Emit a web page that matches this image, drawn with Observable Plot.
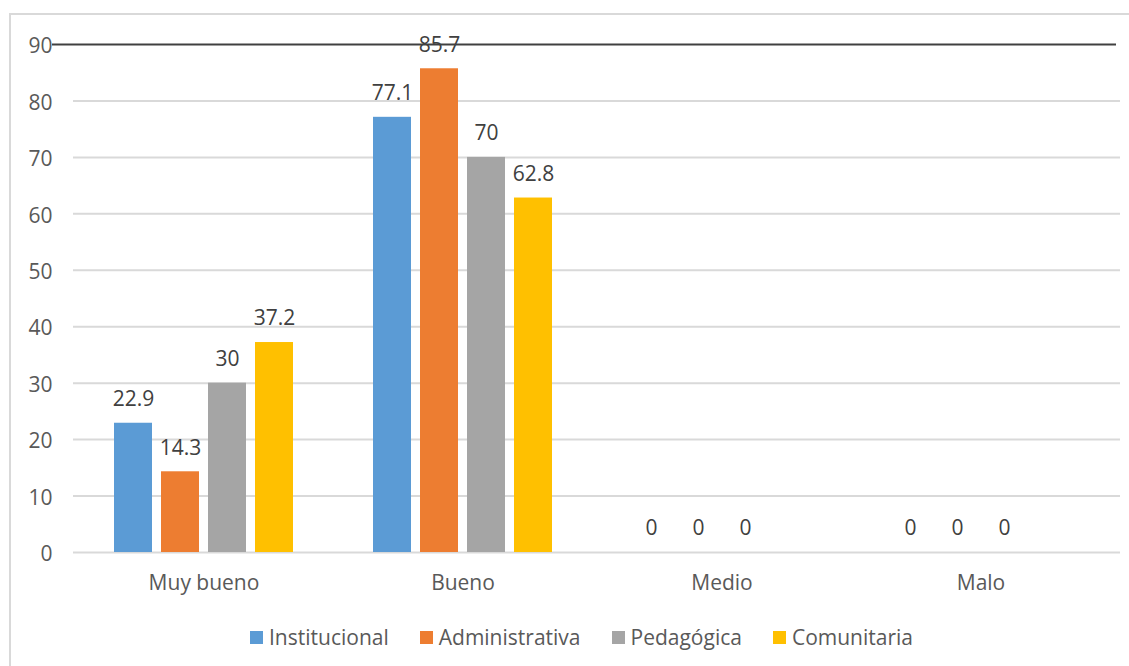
<!DOCTYPE html>
<html><head><meta charset="utf-8">
<script src="https://cdn.jsdelivr.net/npm/d3@7"></script>
<script src="https://cdn.jsdelivr.net/npm/@observablehq/plot@0.6"></script>
<style>
body{margin:0;background:#fff;font-family:"Open Sans",sans-serif;}
#wrap{position:relative;width:1129px;height:666px;overflow:hidden;background:#fff;}
#border{position:absolute;left:9px;top:13px;width:1140px;height:700px;border:2px solid #d9d9d9;box-sizing:border-box;}
#chart{position:absolute;left:0;top:0;}
#legend{position:absolute;top:623px;left:250px;display:flex;align-items:center;font-size:21px;color:#595959;white-space:nowrap;}
#legend .item{display:flex;align-items:center;margin-right:31px;}
#legend .sw{width:13px;height:13px;margin-right:6px;}
</style></head>
<body>
<div id="wrap"><div id="border"></div><div id="chart"></div><div id="legend"></div></div>
<script>
const categories = ["Muy bueno", "Bueno", "Medio", "Malo"];
const series = ["Institucional", "Administrativa", "Pedagógica", "Comunitaria"];
const institucional = [22.9, 77.1, 0, 0];
const administrativa = [14.3, 85.7, 0, 0];
const pedagogica = [30, 70, 0, 0];
const comunitaria = [37.2, 62.8, null, null];
const colors = ["#5b9bd5", "#ed7d31", "#a5a5a5", "#ffc000"];
const yTicks = [0, 10, 20, 30, 40, 50, 60, 70, 80, 90];

const valuesBySeries = [institucional, administrativa, pedagogica, comunitaria];
const rows = [];
categories.forEach((c, i) => {
  series.forEach((s, j) => {
    rows.push({category: c, series: s, value: valuesBySeries[j][i]});
  });
});
const labelled = rows.filter(d => d.value != null);

// grid rows per facet (so that the first / last facet can extend past the band edges without overlaps)
const gridRows = (ticks, cats) => cats.flatMap(c => ticks.map(t => ({category: c, y: t})));
const light = yTicks.filter(d => d < 90);
const first = categories.slice(0, 1);
const middle = categories.slice(1, -1);
const last = categories.slice(-1);

const chart = Plot.plot({
  width: 1129,
  height: 610,
  marginTop: 44,
  marginLeft: 74,
  marginRight: 19,
  marginBottom: 58,
  style: {fontFamily: "'Open Sans', sans-serif", fontSize: "21px", color: "#595959", background: "transparent", overflow: "visible"},
  fx: {domain: categories, range: [74, 1110], padding: 0, label: null, axis: null},
  x: {domain: series, axis: null, paddingInner: 0.2, paddingOuter: 0.83},
  y: {domain: [0, 90], axis: null},
  color: {domain: series, range: colors},
  marks: [
    Plot.ruleY(gridRows(light, first), {fx: "category", y: "y", stroke: "#d9d9d9", strokeWidth: 2, insetLeft: -1}),
    Plot.ruleY(gridRows(light, middle), {fx: "category", y: "y", stroke: "#d9d9d9", strokeWidth: 2}),
    Plot.ruleY(gridRows(light, last), {fx: "category", y: "y", stroke: "#d9d9d9", strokeWidth: 2, insetRight: -10}),
    Plot.ruleY(gridRows([90], first), {fx: "category", y: "y", stroke: "#404040", strokeWidth: 2, insetLeft: -22}),
    Plot.ruleY(gridRows([90], middle), {fx: "category", y: "y", stroke: "#404040", strokeWidth: 2}),
    Plot.ruleY(gridRows([90], last), {fx: "category", y: "y", stroke: "#404040", strokeWidth: 2, insetRight: -6}),
    Plot.axisY({ticks: yTicks, tickSize: 0, tickPadding: 22, dy: 2, label: null, fill: "#595959", fontSize: 21}),
    Plot.axisFx({anchor: "bottom", tickSize: 0, tickPadding: 23, label: null, fill: "#595959", fontSize: 21}),
    Plot.barY(rows, {fx: "category", x: "series", y: "value", fill: "series"}),
    Plot.text(labelled, {fx: "category", x: "series", y: "value", text: d => String(d.value), dy: -24, fill: "#404040", fontSize: 21})
  ]
});
document.getElementById("chart").appendChild(chart);

const legend = document.getElementById("legend");
series.forEach((s, j) => {
  const item = document.createElement("div");
  item.className = "item";
  const sw = document.createElement("span");
  sw.className = "sw";
  sw.style.background = colors[j];
  const t = document.createElement("span");
  t.textContent = s;
  item.appendChild(sw);
  item.appendChild(t);
  legend.appendChild(item);
});
</script>
</body></html>
